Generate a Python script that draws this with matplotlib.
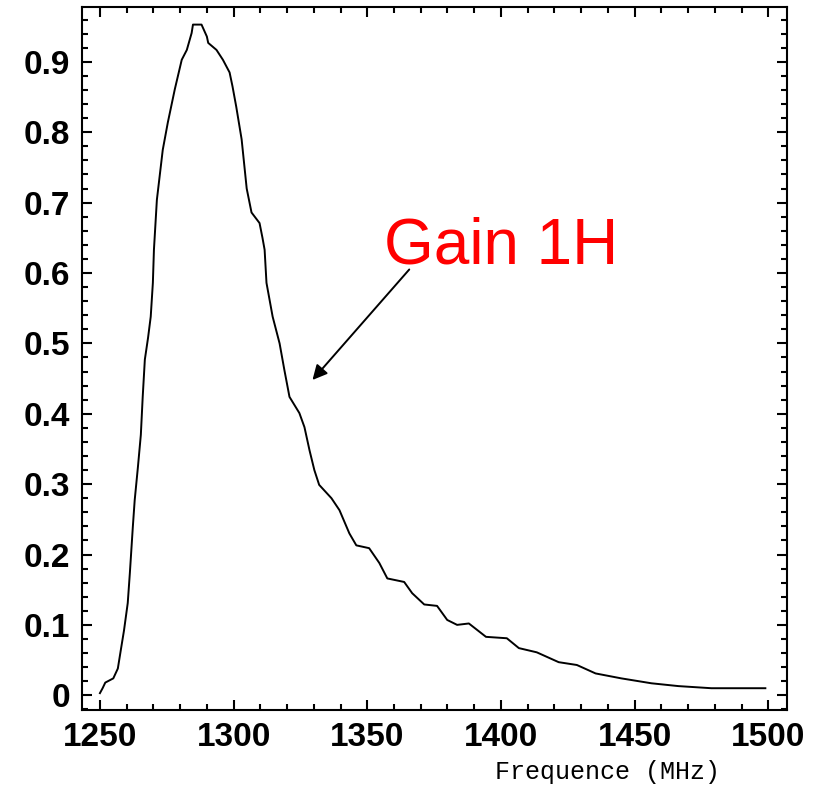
import matplotlib
matplotlib.use('Agg')
from matplotlib import pyplot as plt
from matplotlib.ticker import MultipleLocator

# Gain curve (frequency in MHz, normalised gain)
freq = [1250.0, 1251.0, 1252.0, 1255.0, 1256.7, 1257.8, 1259.0, 1260.4,
        1261.2, 1262.3, 1263.0, 1264.2, 1265.3, 1266.0, 1266.8, 1268.0,
        1269.0, 1269.8, 1270.2, 1271.3, 1273.5, 1275.4, 1278.0, 1280.6,
        1282.5, 1284.3, 1284.8, 1288.0, 1290.0, 1290.5, 1293.6, 1296.0,
        1298.5, 1299.6, 1301.0, 1303.0, 1304.9, 1306.7, 1309.7, 1310.8,
        1311.6, 1312.3, 1314.6, 1317.2, 1319.0, 1320.9, 1324.6, 1326.5,
        1328.4, 1330.2, 1332.0, 1336.6, 1339.6, 1343.3, 1345.9, 1350.7,
        1354.5, 1357.5, 1363.8, 1366.8, 1371.3, 1376.1, 1379.9, 1383.6,
        1388.0, 1394.4, 1402.2, 1406.7, 1413.4, 1421.6, 1428.4, 1435.4,
        1445.0, 1456.3, 1466.4, 1478.7, 1498.9]
gain = [0.003, 0.010, 0.018, 0.024, 0.038, 0.064, 0.092, 0.131,
        0.174, 0.239, 0.277, 0.324, 0.370, 0.424, 0.477, 0.508,
        0.538, 0.586, 0.633, 0.704, 0.775, 0.814, 0.861, 0.903,
        0.917, 0.941, 0.953, 0.953, 0.936, 0.927, 0.917, 0.903,
        0.885, 0.865, 0.836, 0.790, 0.720, 0.686, 0.671, 0.650,
        0.633, 0.586, 0.538, 0.500, 0.462, 0.424, 0.401, 0.381,
        0.348, 0.320, 0.299, 0.280, 0.263, 0.230, 0.213, 0.209,
        0.188, 0.166, 0.161, 0.145, 0.129, 0.127, 0.107, 0.100,
        0.102, 0.083, 0.081, 0.067, 0.061, 0.047, 0.043, 0.031,
        0.024, 0.017, 0.013, 0.010, 0.010]

x_ticks = [1250, 1300, 1350, 1400, 1450, 1500]
y_ticks = [0, 0.1, 0.2, 0.3, 0.4, 0.5, 0.6, 0.7, 0.8, 0.9]
y_labels = ['0', '0.1', '0.2', '0.3', '0.4', '0.5', '0.6', '0.7', '0.8', '0.9']

fig = plt.figure(figsize=(8.21, 7.87), dpi=100)
ax = fig.add_axes([0.0999, 0.0978, 0.8587, 0.8933])

ax.plot(freq, gain, c='black', lw=1.4)

ax.set_xlim(1243.3, 1507.0)
ax.set_ylim(-0.021, 0.978)
ax.set_xticks(x_ticks)
ax.set_yticks(y_ticks)
ax.set_yticklabels(y_labels)
ax.xaxis.set_minor_locator(MultipleLocator(10))
ax.yaxis.set_minor_locator(MultipleLocator(0.02))

for s in ax.spines.values():
    s.set_linewidth(1.5)
ax.tick_params(which='both', direction='in', top=True, right=True, width=1.5)
ax.tick_params(which='major', length=7, pad=8.5)
ax.tick_params(which='minor', length=4)
for lab in ax.get_xticklabels() + ax.get_yticklabels():
    lab.set_fontfamily('Liberation Sans')
    lab.set_fontweight('bold')
    lab.set_fontsize(24)

ax.set_xlabel('Frequence (MHz)', family='Liberation Mono', fontsize=18,
              va='center')
ax.xaxis.set_label_coords(0.746, -0.088)

# Annotation
ax.text(1356.3, 0.614, 'Gain 1H', color='red', fontsize=46,
        family='Liberation Sans', ha='left', va='baseline')
ax.annotate('', xy=(1329.5, 0.448), xytext=(1365.7, 0.605),
            arrowprops=dict(arrowstyle='-|>', color='black', lw=1.4,
                            mutation_scale=22, shrinkA=0, shrinkB=0))

fig.savefig('out.png', dpi=100)
